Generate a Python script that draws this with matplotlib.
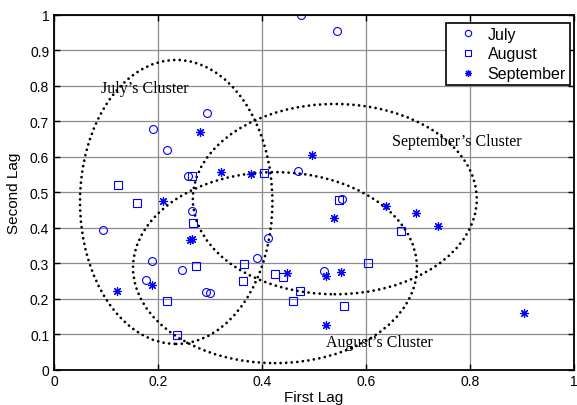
import matplotlib
matplotlib.use("Agg")
import matplotlib.pyplot as plt
from matplotlib.patches import Ellipse

# July (circles)
july_x = [0.095, 0.176, 0.189, 0.191, 0.218, 0.247, 0.258, 0.266, 0.292,
          0.295, 0.300, 0.390, 0.412, 0.469, 0.475, 0.520, 0.544, 0.554]
july_y = [0.394, 0.252, 0.307, 0.677, 0.619, 0.280, 0.544, 0.447, 0.219,
          0.722, 0.215, 0.314, 0.370, 0.560, 1.000, 0.277, 0.954, 0.479]

# August (squares)
aug_x = [0.124, 0.160, 0.218, 0.236, 0.265, 0.267, 0.274, 0.364, 0.365,
         0.403, 0.425, 0.440, 0.459, 0.474, 0.549, 0.557, 0.603, 0.668]
aug_y = [0.520, 0.470, 0.192, 0.097, 0.546, 0.414, 0.292, 0.249, 0.296,
         0.554, 0.268, 0.260, 0.192, 0.220, 0.477, 0.178, 0.301, 0.390]

# September (asterisks)
sep_x = [0.121, 0.189, 0.209, 0.262, 0.265, 0.281, 0.321, 0.378, 0.449,
         0.497, 0.523, 0.523, 0.538, 0.551, 0.638, 0.697, 0.738, 0.903]
sep_y = [0.220, 0.238, 0.474, 0.366, 0.369, 0.668, 0.557, 0.551, 0.271,
         0.604, 0.264, 0.125, 0.427, 0.276, 0.461, 0.442, 0.403, 0.160]

# cluster ellipses: name, centre, width, height, label position
cluster_names = ["July\u2019s Cluster", "September\u2019s Cluster", "August\u2019s Cluster"]
cluster_centers = [(0.235, 0.472), (0.540, 0.480), (0.425, 0.287)]
cluster_widths = [0.370, 0.546, 0.546]
cluster_heights = [0.800, 0.536, 0.538]
label_pos = [(0.090, 0.792), (0.650, 0.643), (0.523, 0.077)]

fig = plt.figure(figsize=(5.77, 4.06), dpi=100)
ax = fig.add_axes([0.0936, 0.0874, 0.9012, 0.8744])

ax.plot(july_x, july_y, 'o', color='b', mfc='none', ms=5.7, mew=0.8, label='July')
ax.plot(aug_x, aug_y, 's', color='b', mfc='none', ms=5.2, mew=0.8, label='August')
ax.plot(sep_x, sep_y, ls='none', marker=(8, 2, 0), color='b', ms=6.2, mew=0.85,
        label='September')

for c, w, h in zip(cluster_centers, cluster_widths, cluster_heights):
    e = Ellipse(c, w, h, fill=False, edgecolor='k', lw=2.0,
                linestyle=(0, (0.01, 2.0)), capstyle='round')
    ax.add_patch(e)

for name, (tx, ty) in zip(cluster_names, label_pos):
    ax.text(tx, ty, name, family='Liberation Serif', fontsize=11.5,
            ha='left', va='center')

ax.set_xlim(0, 1)
ax.set_ylim(0, 1)
ax.set_xticks([0, 0.2, 0.4, 0.6, 0.8, 1])
ax.set_xticklabels(['0', '0.2', '0.4', '0.6', '0.8', '1'])
ax.set_yticks([i / 10 for i in range(11)])
ax.set_yticklabels(['0', '0.1', '0.2', '0.3', '0.4', '0.5', '0.6', '0.7',
                    '0.8', '0.9', '1'])
ax.tick_params(direction='in', length=4, labelsize=10, top=True, right=True,
               width=1)
for lab in ax.get_xticklabels() + ax.get_yticklabels():
    lab.set_family('Liberation Sans')
ax.grid(True, color='0.55', lw=0.9)
ax.set_axisbelow(True)
for s in ax.spines.values():
    s.set_linewidth(1.3)

ax.set_xlabel('First Lag', family='Liberation Sans', fontsize=11)
ax.set_ylabel('Second Lag', family='Liberation Sans', fontsize=11)
ax.xaxis.set_label_coords(0.5, -0.058)
ax.yaxis.set_label_coords(-0.064, 0.5)

leg = ax.legend(loc='upper right', bbox_to_anchor=(0.992, 0.977),
                borderaxespad=0, fancybox=False, edgecolor='k',
                framealpha=1, handlelength=2.2, handletextpad=0.15,
                labelspacing=0.3, borderpad=0.25, markerscale=0.8,
                prop={'family': 'Liberation Sans', 'size': 11.5})
leg.get_frame().set_linewidth(1.2)

fig.savefig('out.png', dpi=100)
